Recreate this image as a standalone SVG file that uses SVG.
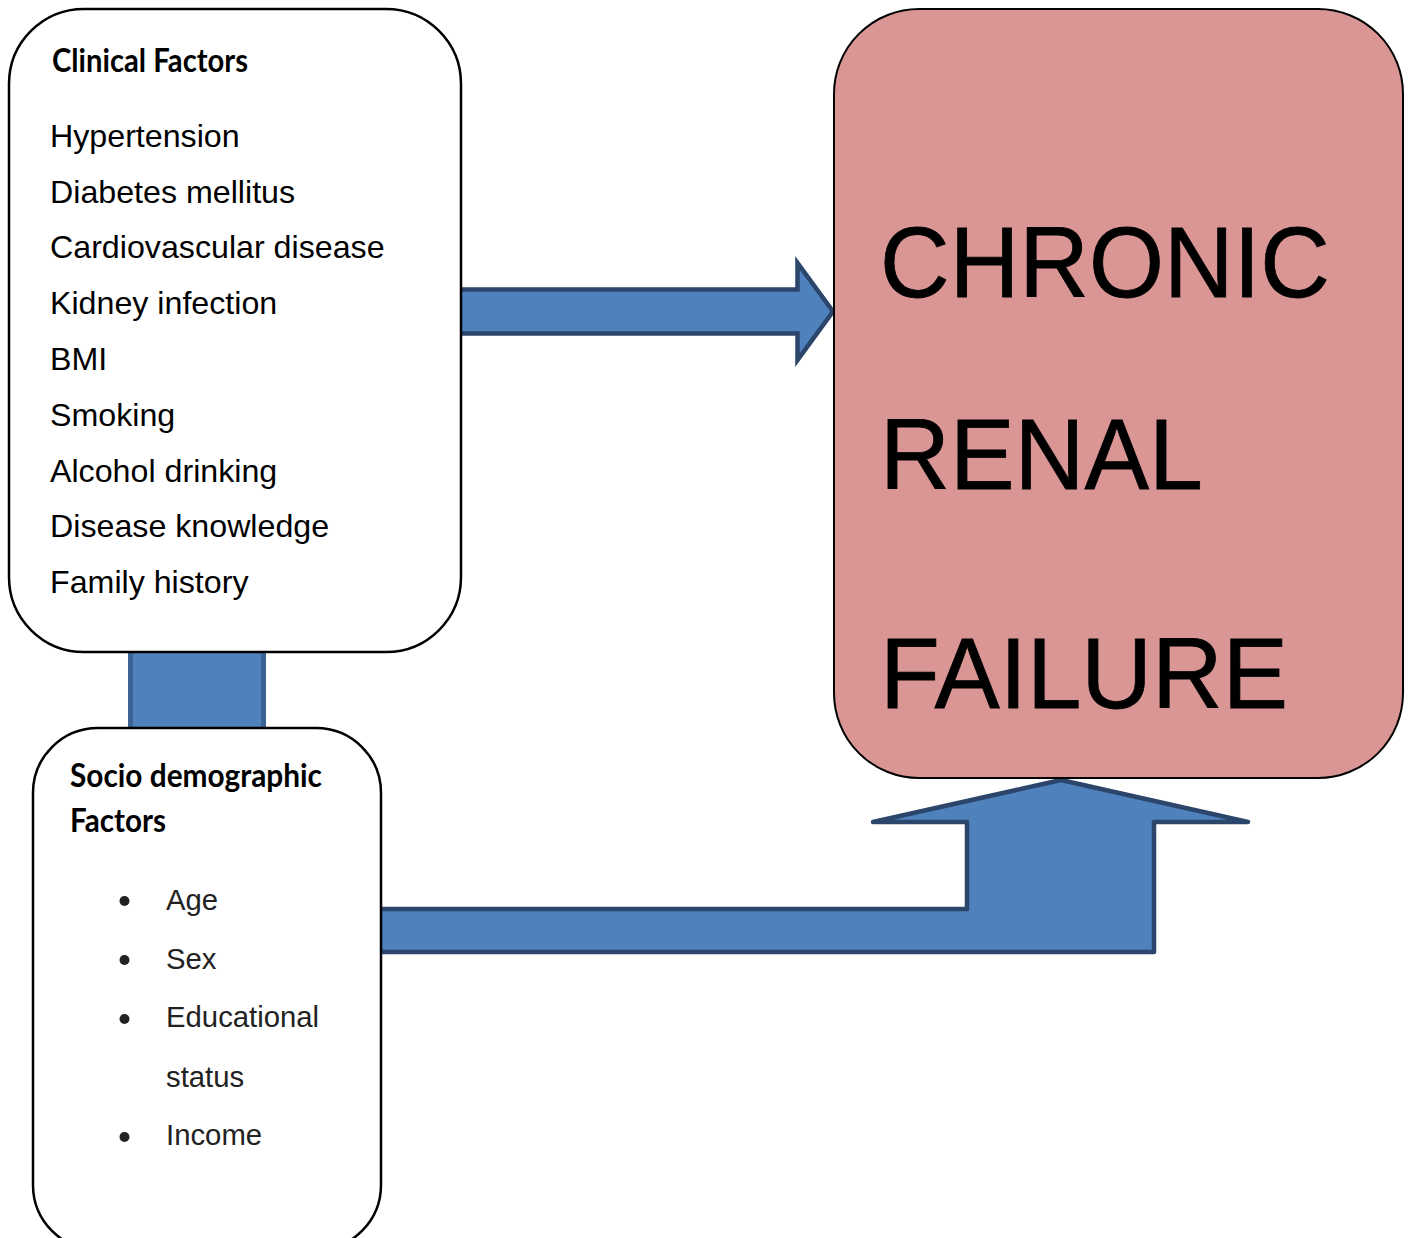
<svg xmlns="http://www.w3.org/2000/svg" width="1410" height="1238" viewBox="0 0 1410 1238">
<style>
.box{fill:#ffffff;stroke:#000000;stroke-width:2.5}
.crf{fill:#d99694;stroke:#000000;stroke-width:2}
.arrow{fill:#4f81bd;stroke:#2b456b;stroke-width:4.5}
.body{font-family:"Liberation Sans",Arial,sans-serif;font-size:32.2px;fill:#000000}
.bul{font-family:"Liberation Sans",Arial,sans-serif;font-size:29.3px;fill:#222222}
.head{font-family:Lato,"Open Sans","Liberation Sans",sans-serif;font-weight:bold;font-size:31.6px;fill:#000000}
.big{font-family:"Liberation Sans",Arial,sans-serif;font-size:100px;fill:#000000;stroke:#000000;stroke-width:0.8}
</style>
<rect width="1410" height="1238" fill="#ffffff"/>
<g id="connectors">
<rect x="130.5" y="645" width="133" height="90" fill="#4f81bd" stroke="#3d6394" stroke-width="5"/>
<path class="arrow" stroke-linejoin="miter" d="M459 289.5 L797.5 289.5 L797.5 263 L833 311.5 L797.5 360 L797.5 333.5 L459 333.5 Z"/>
<path class="arrow" stroke-linejoin="round" d="M379 909 L967 909 L967 822 L873 822 L1061 780 L1248 822 L1154 822 L1154 952 L379 952 Z"/>
</g>
<g id="clinical">
<rect class="box" x="9" y="9" width="452" height="643" rx="75" ry="75"/>
<text class="head" x="52" y="72" textLength="196" lengthAdjust="spacingAndGlyphs">Clinical Factors</text>
<text class="body" x="50" y="147">Hypertension</text>
<text class="body" x="50" y="203">Diabetes mellitus</text>
<text class="body" x="50" y="258">Cardiovascular disease</text>
<text class="body" x="50" y="314">Kidney infection</text>
<text class="body" x="50" y="370">BMI</text>
<text class="body" x="50" y="426">Smoking</text>
<text class="body" x="50" y="482">Alcohol drinking</text>
<text class="body" x="50" y="537">Disease knowledge</text>
<text class="body" x="50" y="593">Family history</text>
</g>
<g id="socio">
<rect class="box" x="33" y="728" width="348" height="522" rx="65" ry="65"/>
<text class="head" x="70" y="787" textLength="252" lengthAdjust="spacingAndGlyphs">Socio demographic</text>
<text class="head" x="70" y="832" textLength="96" lengthAdjust="spacingAndGlyphs">Factors</text>
<g fill="#222222">
<circle cx="124.5" cy="901" r="5"/>
<circle cx="124.5" cy="960" r="5"/>
<circle cx="124.5" cy="1019" r="5"/>
<circle cx="124.5" cy="1137" r="5"/>
</g>
<text class="bul" x="166" y="910">Age</text>
<text class="bul" x="166" y="969">Sex</text>
<text class="bul" x="166" y="1027">Educational</text>
<text class="bul" x="166" y="1087">status</text>
<text class="bul" x="166" y="1145">Income</text>
</g>
<g id="crf">
<rect class="crf" x="834" y="9" width="569" height="769" rx="85" ry="85"/>
<text class="big" x="880" y="297" textLength="450" lengthAdjust="spacingAndGlyphs">CHRONIC</text>
<text class="big" x="880" y="489" textLength="323" lengthAdjust="spacingAndGlyphs">RENAL</text>
<text class="big" x="880" y="708" textLength="408" lengthAdjust="spacingAndGlyphs">FAILURE</text>
</g>
</svg>
